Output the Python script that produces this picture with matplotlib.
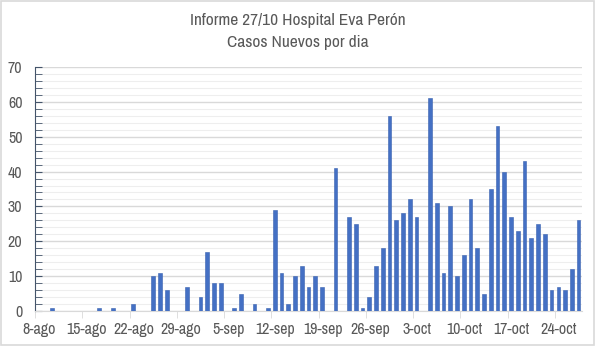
import matplotlib
matplotlib.use("Agg")
import matplotlib.pyplot as plt
from matplotlib.patches import Rectangle
from matplotlib.ticker import MultipleLocator

plt.rcParams['font.family'] = ['Archivo Narrow', 'DejaVu Sans']

# casos nuevos por dia, desde el 8-ago hasta el 27-oct
casos = [0, 0, 1, 0, 0, 0, 0, 0, 0, 1, 0, 1, 0, 0, 2, 0, 0, 10, 11, 6,
         0, 0, 7, 0, 4, 17, 8, 8, 0, 1, 5, 0, 2, 0, 1, 29, 11, 2, 10, 13,
         7, 10, 7, 0, 41, 0, 27, 25, 1, 4, 13, 18, 56, 26, 28, 32, 27, 0, 61, 31,
         11, 30, 10, 16, 32, 18, 5, 35, 53, 40, 27, 23, 43, 21, 25, 22, 6, 7, 6, 12,
         26]
etiquetas = ['8-ago', '15-ago', '22-ago', '29-ago', '5-sep', '12-sep',
             '19-sep', '26-sep', '3-oct', '10-oct', '17-oct', '24-oct']

dias = [d + 0.5 for d in range(len(casos))]
semanas = list(range(0, 7 * len(etiquetas), 7))

fig = plt.figure(figsize=(5.96, 3.46), dpi=100)
fig.patches.append(Rectangle((0.002, 0.003), 0.995, 0.993, transform=fig.transFigure,
                             fill=False, edgecolor='#d9d9d9', linewidth=1.2))

ax = fig.add_axes([35/596, 35/346, 547/596, 244/346])
ax.bar(dias, casos, width=0.55, color='#4470c4', edgecolor='#3a62b0', linewidth=0.4, zorder=3)

ax.set_xlim(0, len(casos))
ax.set_ylim(0, 70)
ax.yaxis.set_major_locator(MultipleLocator(10))
ax.yaxis.set_minor_locator(MultipleLocator(2))

# marcas al inicio de cada semana, etiqueta centrada en el dia
ax.set_xticks([s + 0.6 for s in semanas])
ax.set_xticklabels(etiquetas)
ax.set_xticks(semanas, minor=True)

ax.grid(axis='y', which='major', color='#d9d9d9', linewidth=1.0, zorder=0)
ax.grid(axis='y', which='minor', color='#eeeeee', linewidth=0.8, zorder=0)

for s in ['top', 'right']:
    ax.spines[s].set_visible(False)
ax.spines['left'].set_color('#44546a')
ax.spines['bottom'].set_color('#d9d9d9')
ax.tick_params(axis='y', which='both', direction='in', length=5, color='#44546a')
ax.tick_params(axis='y', which='major', labelsize=11.5, labelcolor='#595959', pad=9)
ax.tick_params(axis='x', which='major', length=0, labelsize=11.5, labelcolor='#595959', pad=8)
ax.tick_params(axis='x', which='minor', length=5, color='#d9d9d9')

fig.text(0.5, 1 - 21/346, 'Informe 27/10 Hospital Eva Perón', ha='center', va='center',
         fontsize=12.5, color='#595959')
fig.text(0.5, 1 - 42/346, 'Casos Nuevos por dia', ha='center', va='center',
         fontsize=12.5, color='#595959')

fig.savefig('out.png', dpi=100)
